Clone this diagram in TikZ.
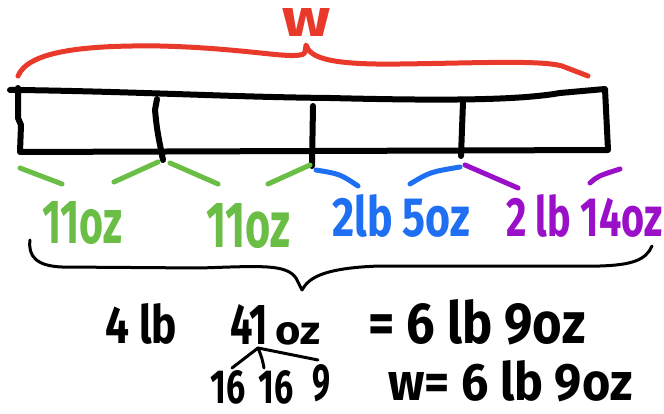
\documentclass[tikz,border=0pt]{standalone}
\usepackage{fontspec}
\setmainfont{Fira Sans}
\usepackage{graphicx}
\definecolor{hred}{HTML}{E8392B}
\definecolor{hgreen}{HTML}{6ABD45}
\definecolor{hblue}{HTML}{1F6FF2}
\definecolor{hpurple}{HTML}{9A10C8}
\newcommand{\hw}[3]{\resizebox{#1pt}{#2pt}{\bfseries #3}}
\tikzset{
  ink/.style={line width=5pt, line cap=round, line join=round},
  box ink/.style={line width=6pt, line cap=round, line join=round},
  thin ink/.style={line width=3pt, line cap=round, line join=round},
  lbl/.style={anchor=south west, inner sep=0pt},
}
\begin{document}
\begin{tikzpicture}[x=1pt,y=-1pt]
\useasboundingbox (0,0) rectangle (664,414);
% box
\draw[box ink] (10,90) -- (20,90) .. controls (150,92) and (230,97) .. (330,98)
  .. controls (450,101) and (520,100) .. (560,93) -- (605,89) -- (608,150)
  -- (20,152) -- (21,125) -- (18,118) -- (18,88);
\draw[box ink] (157,99) -- (155,110) .. controls (157,130) .. (163,160);
\draw[box ink] (313,106) -- (312,166);
\draw[box ink] (463,102) -- (461,156);
% red brace
\draw[ink, hred] (18,76) .. controls (28,52) and (80,45) .. (160,46)
  .. controls (240,48) and (285,58) .. (300,55) .. controls (305,54) .. (306,45)
  .. controls (310,58) and (330,65) .. (400,64) .. controls (480,63) and (540,60) .. (562,66)
  -- (588,76);
\node[lbl, text=hred] (w) at (282,37) {\hw{48}{28}{w}};
% ticks
\draw[ink, hgreen] (20,168) -- (62,184);
\draw[ink, hgreen] (114,182) -- (158,162);
\draw[ink, hgreen] (170,163) -- (218,184);
\draw[ink, hgreen] (268,184) -- (310,165);
\draw[ink, hblue] (316,170) .. controls (340,174) .. (358,186);
\draw[ink, hblue] (410,184) .. controls (430,172) .. (460,167);
\draw[ink, hpurple] (465,165) -- (518,188);
\draw[ink, hpurple] (590,183) .. controls (598,176) .. (620,169);
% segment labels
\node[lbl, text=hgreen] (g1) at (42,245) {\hw{80}{42}{11oz}};
\node[lbl, text=hgreen] (g2) at (206,249) {\hw{84}{44}{11oz}};
\node[lbl, text=hblue] (b1) at (332,238) {\hw{138}{42}{2lb 5oz}};
\node[lbl, text=hpurple] (p1) at (506,238) {\hw{156}{42}{2 lb 14oz}};
% black brace
\draw[thin ink] (30,240) .. controls (28,256) and (36,266) .. (62,267) -- (200,268)
  .. controls (262,266) and (286,264) .. (296,278) -- (302,290)
  .. controls (308,280) and (318,268) .. (380,266) -- (600,266)
  .. controls (632,265) and (646,260) .. (652,246);
% bottom working
\node[lbl] (t1) at (105,345) {\hw{72}{40}{4 lb}};
\node[lbl] (t2) at (230,345) {\hw{38}{40}{41}};
\node[lbl] (t3) at (275,345) {\hw{45}{22}{oz}};
\node[lbl] (t4) at (368,345) {\hw{217}{44}{= 6 lb 9oz}};
\node[lbl] (u1) at (210,405) {\hw{35}{33}{16}};
\node[lbl] (u2) at (258,405) {\hw{35}{33}{16}};
\node[lbl] (u3) at (312,402) {\hw{18}{36}{9}};
\node[lbl] (t5) at (388,402) {\hw{244}{40}{w= 6 lb 9oz}};
\coordinate (top) at (258,348);
\draw[thin ink] (232,368) -- (top);
\draw[thin ink] (264,368) .. controls (262,358) .. (top);
\draw[thin ink] (318,360) -- (top);
\end{tikzpicture}
\end{document}
